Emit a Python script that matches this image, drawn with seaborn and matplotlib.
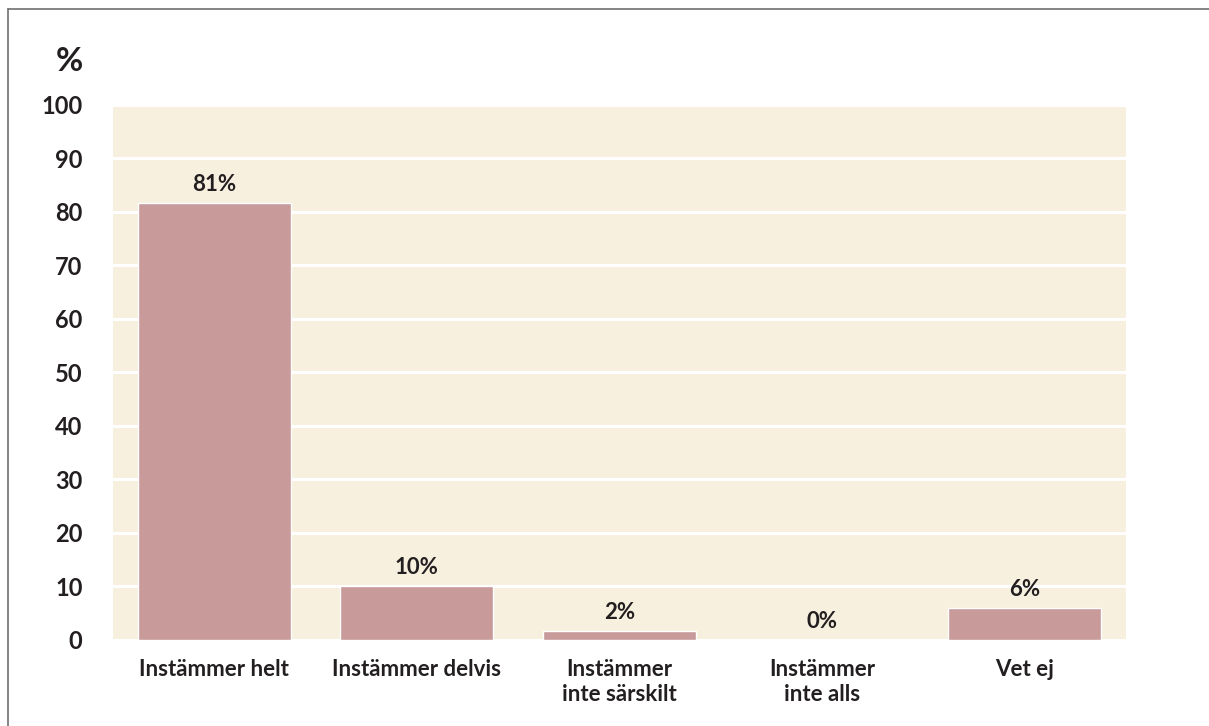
import matplotlib
matplotlib.use("Agg")
import matplotlib.pyplot as plt
import seaborn as sns
from matplotlib.lines import Line2D

# Data
categories = ["Instämmer helt", "Instämmer delvis", "Instämmer\ninte särskilt",
              "Instämmer\ninte alls", "Vet ej"]
values = [81.7, 10.0, 1.6, 0.0, 6.0]
value_labels = ["81%", "10%", "2%", "0%", "6%"]
yticks = [0, 10, 20, 30, 40, 50, 60, 70, 80, 90, 100]

bar_color = "#C89A9A"
bg_color = "#F7F0DF"
text_color = "#231F20"

sns.set_style("white")
plt.rcParams['font.family'] = ['Lato', 'DejaVu Sans']
plt.rcParams['font.weight'] = 'bold'

fig = plt.figure(figsize=(12.09, 7.26), dpi=100)
ax = fig.add_axes([0.0935, 0.1185, 0.8378, 0.7369])
ax.set_facecolor(bg_color)

sns.barplot(x=categories, y=values, color=bar_color, width=0.755,
            saturation=1, ax=ax)

ax.set_ylim(0, 100)
ax.set_xlim(-0.5, len(categories) - 0.5)
ax.set_yticks(yticks)
ax.yaxis.grid(True, color="white", linewidth=2.2)
ax.xaxis.grid(False)
ax.set_axisbelow(True)
for s in ax.spines.values():
    s.set_visible(False)

ax.tick_params(axis="y", length=0, pad=22, labelsize=17, labelcolor=text_color)
ax.tick_params(axis="x", length=0, pad=14, labelsize=16, labelcolor=text_color)
for lbl in ax.get_xticklabels():
    lbl.set_linespacing(1.2)
    lbl.set_verticalalignment("top")
ax.set_xlabel("")
ax.set_ylabel("")

for i, (v, t) in enumerate(zip(values, value_labels)):
    ax.annotate(t, (i, v), xytext=(0, 6), textcoords="offset points",
                ha="center", va="bottom", fontsize=16, color=text_color)

ax.text(-0.0296, 1.054, "%", transform=ax.transAxes, ha="right", va="bottom",
        fontsize=24, color=text_color)

# thin frame at top and left of the figure
fig.add_artist(Line2D([7.5 / 1209, 1], [1 - 8.5 / 726, 1 - 8.5 / 726],
                      color="#707070", linewidth=1.2, transform=fig.transFigure))
fig.add_artist(Line2D([7.5 / 1209, 7.5 / 1209], [0, 1 - 8.5 / 726],
                      color="#707070", linewidth=1.2, transform=fig.transFigure))

fig.savefig("out.png", dpi=100)
